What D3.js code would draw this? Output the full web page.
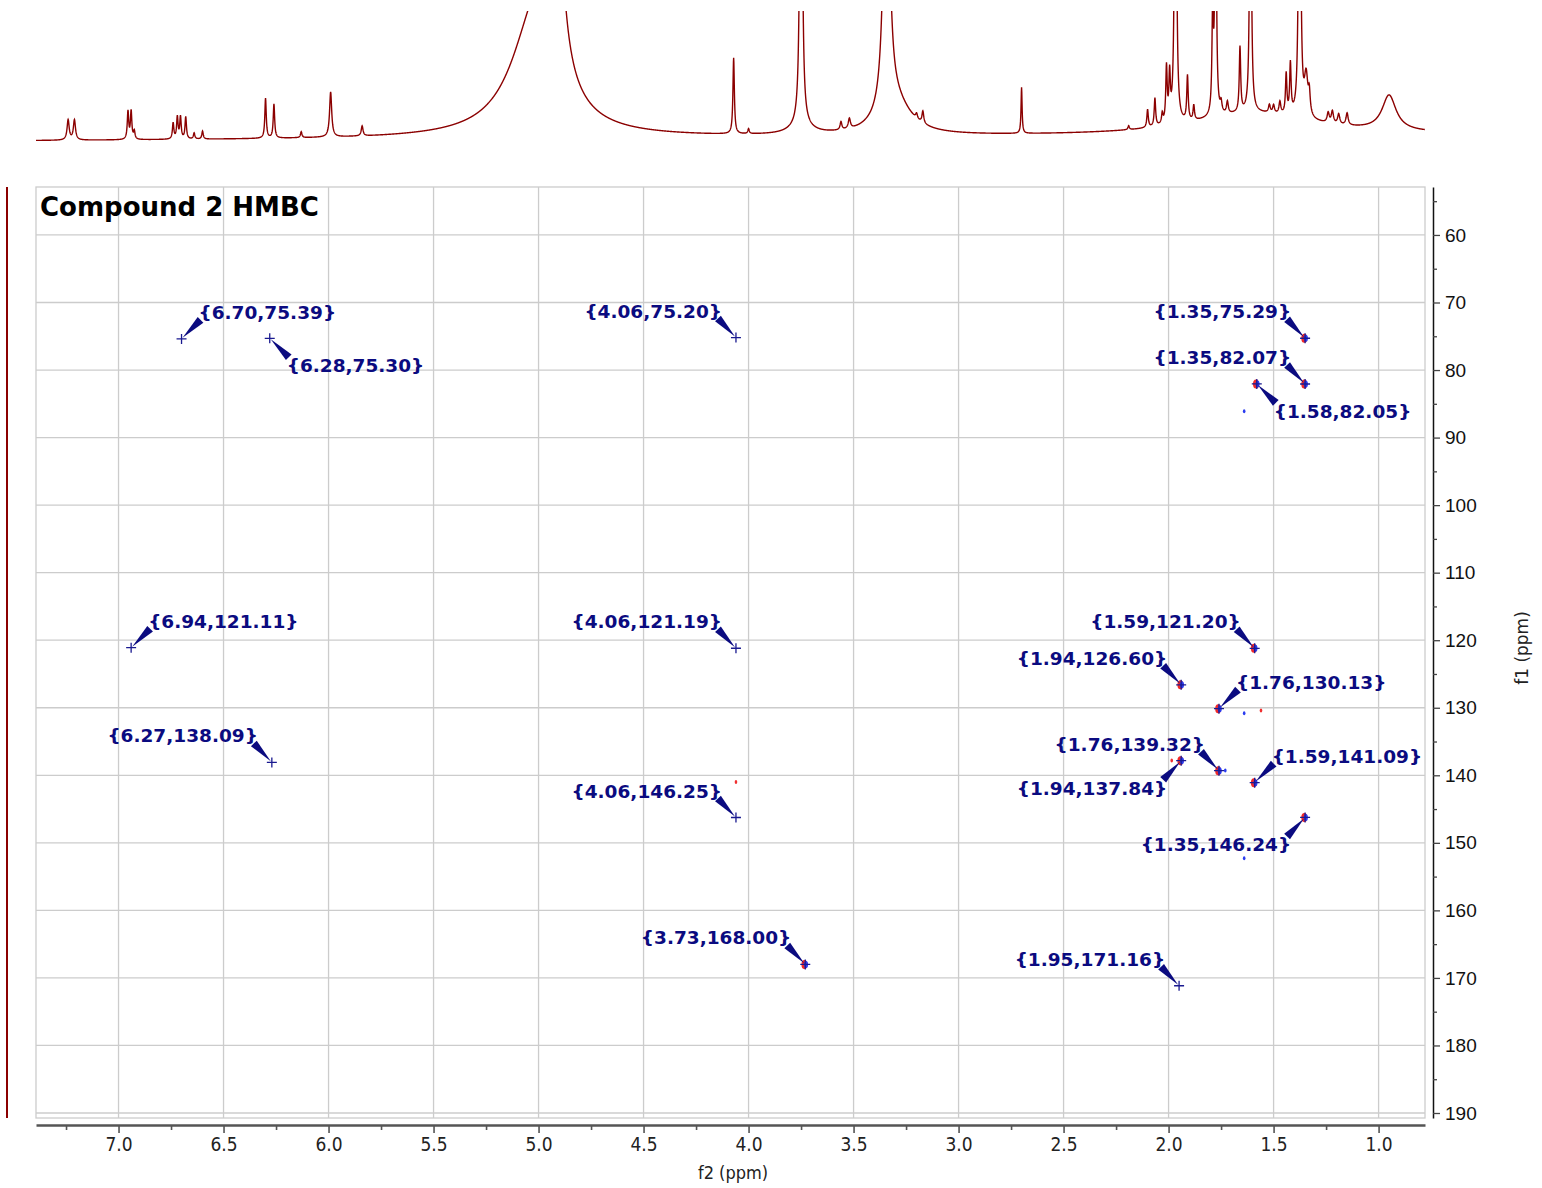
<!DOCTYPE html>
<html>
<head>
<meta charset="utf-8">
<script src="https://cdn.jsdelivr.net/npm/d3@7"></script>
<style>
  body { margin: 0; background: #fff; }
  svg { display: block; font-family: "DejaVu Sans", Verdana, sans-serif; }
</style>
</head>
<body>
<script>
// HMBC cross peaks (f2 = 1H ppm, f1 = 13C ppm)
var peakF2 = [6.70, 6.28, 4.06, 1.35, 1.35, 1.58, 6.94, 4.06, 1.59, 1.94, 1.76, 6.27, 1.76, 1.94, 1.59, 4.06, 1.35, 3.73, 1.95];
var peakF1 = [75.39, 75.30, 75.20, 75.29, 82.07, 82.05, 121.11, 121.19, 121.20, 126.60, 130.13, 138.09, 139.32, 137.84, 141.09, 146.25, 146.24, 168.00, 171.16];
// which side of the cross the label sits on
var labelSide = ["ne", "se", "nw", "nw", "nw", "se", "ne", "nw", "nw", "nw", "ne", "nw", "nw", "sw", "ne", "nw", "sw", "nw", "nw"];
// cross peaks that show red/blue contour blobs
var withContour = [0, 0, 0, 1, 1, 1, 0, 0, 1, 1, 1, 0, 1, 1, 1, 0, 1, 1, 0];

// stray contour specks
var speckF2 = [1.64, 1.64, 1.56, 1.985, 1.64, 4.06, 1.73];
var speckF1 = [86.1, 130.8, 130.4, 137.8, 152.3, 141.0, 139.3];
var speckColor = ["#2a3cf0", "#2a3cf0", "#f03030", "#f03030", "#2a3cf0", "#f03030", "#2a3cf0"];

// 1H projection peak table: shift (ppm), height, half width (ppm)
var h1Shift = [7.24, 7.21, 6.955, 6.94, 6.925, 6.74, 6.72, 6.705, 6.68, 6.64, 6.60, 6.30, 6.26, 6.13, 5.99, 5.84,
  5.02, 4.93, 4.071, 4.00, 3.75, 3.75, 3.56, 3.52, 3.343, 3.30, 3.20, 3.17, 2.70,
  2.19, 2.10, 2.065, 2.03, 2.01, 1.995, 1.967, 1.91, 1.88, 1.79, 1.776, 1.75, 1.72, 1.66, 1.61,
  1.52, 1.50, 1.47, 1.44, 1.42, 1.376, 1.345, 1.33, 1.24, 1.22, 1.19, 1.15, 0.95, 1.60];
var h1Height = [20, 20, 28, 28, 8, 16, 22, 22, 22, 6, 8, 40, 34, 6, 45, 10,
  110, 400, 76, 5, 600, 8, 8, 10, 350, 30, 5, 12, 46,
  4, 18, 28, 10, 55, 45, 600, 45, 15, 100, 300, 10, 12, 65, 400,
  8, 8, 12, 40, 50, 600, 40, 20, 10, 12, 10, 12, 35, 22];
var h1Width = [0.006, 0.006, 0.004, 0.004, 0.004, 0.004, 0.004, 0.004, 0.004, 0.004, 0.004, 0.004, 0.004, 0.004, 0.006, 0.005,
  0.14, 0.03, 0.004, 0.004, 0.005, 0.06, 0.005, 0.006, 0.015, 0.09, 0.005, 0.005, 0.003,
  0.004, 0.004, 0.004, 0.004, 0.004, 0.004, 0.004, 0.004, 0.004, 0.004, 0.004, 0.005, 0.005, 0.004, 0.004,
  0.005, 0.005, 0.005, 0.004, 0.004, 0.004, 0.01, 0.005, 0.006, 0.006, 0.006, 0.006, 0.04, 0.35];

// axis ticks
var xTicks = [7.0, 6.5, 6.0, 5.5, 5.0, 4.5, 4.0, 3.5, 3.0, 2.5, 2.0, 1.5, 1.0];
var xMinor = [7.25, 6.75, 6.25, 5.75, 5.25, 4.75, 4.25, 3.75, 3.25, 2.75, 2.25, 1.75, 1.25];
var yTicks = [60, 70, 80, 90, 100, 110, 120, 130, 140, 150, 160, 170, 180, 190];
var yMinor = [55, 65, 75, 85, 95, 105, 115, 125, 135, 145, 155, 165, 175, 185];

var width = 1542, height = 1188;
var plotL = 36, plotR = 1425, plotT = 187, plotB = 1118;

var svg = d3.select("body").append("svg")
  .attr("width", width)
  .attr("height", height);

var x = d3.scaleLinear().domain([7.393, 0.779]).range([plotL, plotR]);
var y = d3.scaleLinear().domain([52.9, 190.74]).range([plotT, plotB]);

// grid + frame
var grid = svg.append("g");
grid.selectAll(".vg").data(xTicks).enter().append("line")
  .attr("x1", function(d) { return x(d); }).attr("x2", function(d) { return x(d); })
  .attr("y1", plotT).attr("y2", plotB)
  .attr("stroke", "#cccccc").attr("stroke-width", 1.3);
grid.selectAll(".hg").data(yTicks).enter().append("line")
  .attr("x1", plotL).attr("x2", plotR)
  .attr("y1", function(d) { return y(d); }).attr("y2", function(d) { return y(d); })
  .attr("stroke", "#cccccc").attr("stroke-width", 1.3);
svg.append("rect")
  .attr("x", plotL).attr("y", plotT).attr("width", plotR - plotL).attr("height", plotB - plotT)
  .attr("fill", "none").attr("stroke", "#cccccc").attr("stroke-width", 1.3);

// x axis
var condensed = "'DejaVu Sans Condensed', 'Liberation Sans Narrow', sans-serif";
var gx = svg.append("g").attr("transform", "translate(0,1125)")
  .call(d3.axisBottom(x).tickValues(xTicks).tickFormat(d3.format(".1f")).tickSize(8).tickSizeOuter(0).tickPadding(5));
gx.select(".domain").attr("stroke", "#555").attr("stroke-width", 2.5);
gx.selectAll(".tick line").attr("stroke", "#555").attr("stroke-width", 1.6);
gx.selectAll(".tick text").attr("font-family", condensed).attr("font-size", 19).attr("fill", "#222");
var gxm = svg.append("g").attr("transform", "translate(0,1125)")
  .call(d3.axisBottom(x).tickValues(xMinor).tickFormat("").tickSize(5).tickSizeOuter(0));
gxm.select(".domain").remove();
gxm.selectAll(".tick line").attr("stroke", "#555").attr("stroke-width", 1.6);

svg.append("text").attr("x", 733).attr("y", 1179).attr("text-anchor", "middle")
  .attr("font-family", condensed).attr("font-size", 18).attr("fill", "#222").text("f2 (ppm)");

// y axis
var gy = svg.append("g").attr("transform", "translate(1433,0)")
  .call(d3.axisRight(y).tickValues(yTicks).tickSize(7).tickSizeOuter(0).tickPadding(5));
gy.select(".domain").attr("stroke", "#111").attr("stroke-width", 1.5);
gy.selectAll(".tick line").attr("stroke", "#444").attr("stroke-width", 1.3);
gy.selectAll(".tick text").attr("font-size", 19).attr("fill", "#111");
var gym = svg.append("g").attr("transform", "translate(1433,0)")
  .call(d3.axisRight(y).tickValues(yMinor).tickFormat("").tickSize(4).tickSizeOuter(0));
gym.select(".domain").remove();
gym.selectAll(".tick line").attr("stroke", "#444").attr("stroke-width", 1.3);

svg.append("text").attr("transform", "translate(1528,648) rotate(-90)").attr("text-anchor", "middle")
  .attr("font-size", 17).attr("fill", "#222").text("f1 (ppm)");

// f1 projection (flat trace on the left)
svg.append("line").attr("x1", 7).attr("x2", 7).attr("y1", plotT).attr("y2", plotB)
  .attr("stroke", "#8b0000").attr("stroke-width", 2);

// 1H projection on top
var yTop = d3.scaleLinear().domain([0, 130]).range([141, 11]);
function intensity(p) {
  var s = (7.4 - p) * 0.9;
  for (var i = 0; i < h1Shift.length; i++) {
    var d = p - h1Shift[i], w = h1Width[i];
    s += h1Height[i] * w * w / (d * d + w * w);
  }
  return s;
}
var ppms = d3.range(7.393, 0.779, -0.001);
svg.append("clipPath").attr("id", "topclip").append("rect")
  .attr("x", plotL).attr("y", 11).attr("width", plotR - plotL).attr("height", 150);
svg.append("path")
  .datum(ppms)
  .attr("clip-path", "url(#topclip)")
  .attr("fill", "none").attr("stroke", "#8b0000").attr("stroke-width", 1.4)
  .attr("d", d3.line().x(function(p) { return x(p); }).y(function(p) { return yTop(intensity(p)); }));

// title
svg.append("text").attr("x", 40).attr("y", 216).attr("font-size", 26).attr("font-weight", "bold")
  .attr("fill", "#000").text("Compound 2 HMBC");

// contour specks
svg.append("g").selectAll("ellipse").data(speckF2).enter().append("ellipse")
  .attr("cx", function(d) { return x(d); })
  .attr("cy", function(d, i) { return y(speckF1[i]); })
  .attr("rx", 1.3).attr("ry", 2)
  .attr("fill", function(d, i) { return speckColor[i]; });

// cross peaks
var navy = "#0b0b80";
var pk = svg.append("g");
peakF2.forEach(function(f2, i) {
  var px = x(f2), py = y(peakF1[i]);
  var g = pk.append("g");
  if (withContour[i]) {
    g.append("ellipse").attr("cx", px - 0.8).attr("cy", py).attr("rx", 3).attr("ry", 4.5).attr("fill", "#f02828");
    g.append("ellipse").attr("cx", px + 0.8).attr("cy", py).attr("rx", 2).attr("ry", 3.5).attr("fill", "#2a3cf0");
  }
  g.append("path")
    .attr("d", "M" + (px - 5) + "," + py + "H" + (px + 5) + "M" + px + "," + (py - 5) + "V" + (py + 5))
    .attr("stroke", "#1a1a90").attr("stroke-width", 1.3);

  var side = labelSide[i];
  var east = side.charAt(1) === "e", north = side.charAt(0) === "n";
  var cy = north ? py - 27 : py + 27;
  var tx = east ? px + 17 : px - 14;
  g.append("text")
    .attr("x", tx).attr("y", cy + 7)
    .attr("text-anchor", east ? "start" : "end")
    .attr("font-size", 18.5).attr("font-weight", "bold").attr("fill", navy)
    .text("{" + f2.toFixed(2) + "," + peakF1[i].toFixed(2) + "}");

  // wedge arrow from label corner to the cross
  var sx = east ? tx + 2 : tx - 4;
  var sy = north ? cy + 8 : cy - 8;
  var dx = px - sx, dy = py - sy, len = Math.sqrt(dx * dx + dy * dy);
  var nx = -dy / len * 4, ny = dx / len * 4;
  var ex = px - dx / len * 1.5, ey = py - dy / len * 1.5;
  g.append("path")
    .attr("d", "M" + (sx + nx) + "," + (sy + ny) + "L" + (sx - nx) + "," + (sy - ny) + "L" + ex + "," + ey + "Z")
    .attr("fill", navy);
});
</script>
</body>
</html>
